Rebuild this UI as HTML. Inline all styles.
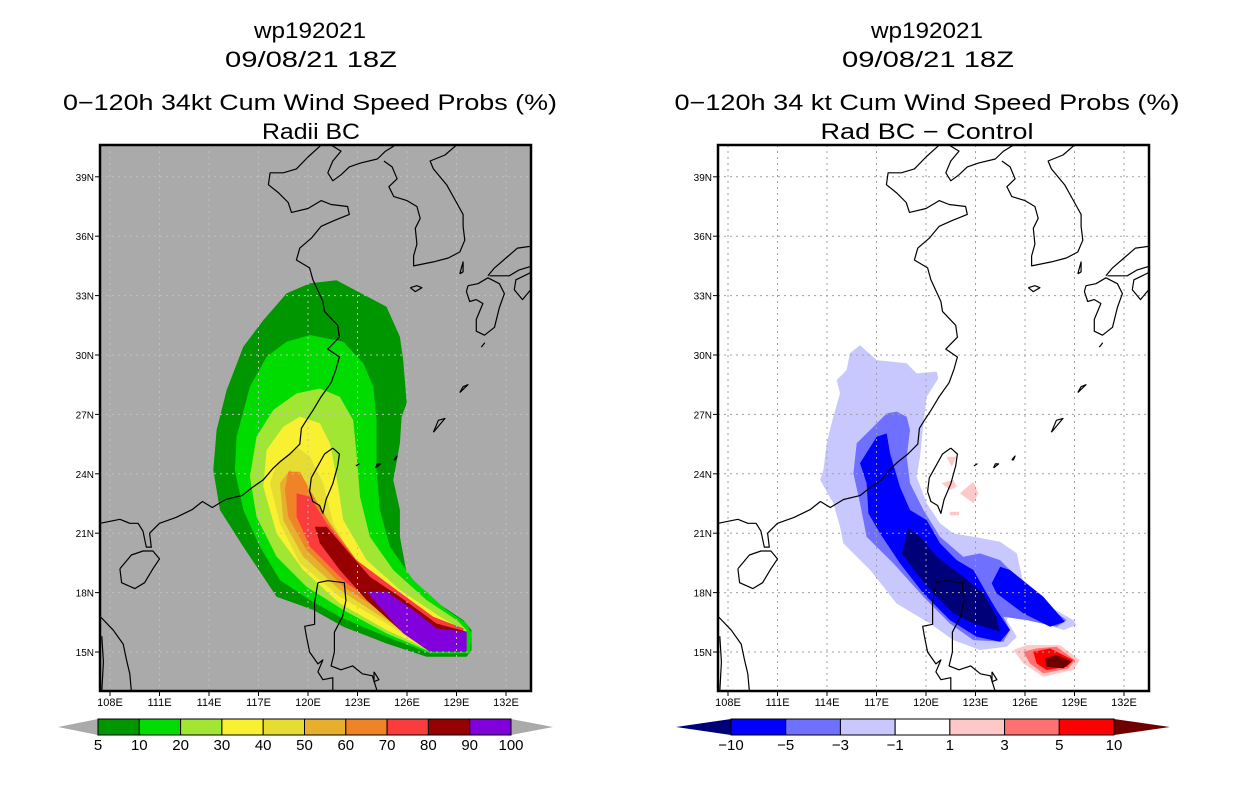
<!DOCTYPE html>
<html><head><meta charset="utf-8"><style>
html,body{margin:0;padding:0;background:#fff;}
svg{display:block;font-family:"Liberation Sans",sans-serif;}
</style></head><body>
<svg id="chart" width="1236" height="800" viewBox="0 0 1236 800" xmlns="http://www.w3.org/2000/svg">
<defs>
<clipPath id="clipL"><rect x="100" y="145" width="431" height="546"/></clipPath>
<clipPath id="clipR"><rect x="718" y="145" width="431" height="546"/></clipPath>
</defs>
<g font-size="22" text-anchor="middle" fill="#000">
<text x="310" y="38" textLength="112" lengthAdjust="spacingAndGlyphs">wp192021</text>
<text x="311" y="67" textLength="172" lengthAdjust="spacingAndGlyphs">09/08/21 18Z</text>
<text x="310" y="110" textLength="494" lengthAdjust="spacingAndGlyphs">0−120h 34kt Cum Wind Speed Probs (%)</text>
<text x="311" y="139" textLength="98" lengthAdjust="spacingAndGlyphs">Radii BC</text>
</g>
<g font-size="22" text-anchor="middle" fill="#000">
<text x="927" y="38" textLength="112" lengthAdjust="spacingAndGlyphs">wp192021</text>
<text x="928" y="67" textLength="172" lengthAdjust="spacingAndGlyphs">09/08/21 18Z</text>
<text x="927" y="110" textLength="505" lengthAdjust="spacingAndGlyphs">0−120h 34 kt Cum Wind Speed Probs (%)</text>
<text x="927" y="139" textLength="213" lengthAdjust="spacingAndGlyphs">Rad BC − Control</text>
</g>
<g id="leftPanel"></g>
<g id="rightPanel"></g>
<g id="leftBar"></g>
<g id="rightBar"></g>
</svg>
<script>
const NS="http://www.w3.org/2000/svg";
const lonTicks=[108,111,114,117,120,123,126,129,132];
const latTicks=[15,18,21,24,27,30,33,36,39];
const leftLevels=[5,10,20,30,40,50,60,70,80,90,100];
const leftColors=["#009600","#00dc00","#a0e632","#faf032","#e6dc32","#e6af2d","#f08228","#fa3c3c","#960000","#8200dc"];
const rightLevels=[-10,-5,-3,-1,1,3,5,10];
const rightColors=["#0000ff","#7070ff","#c8c8ff","#ffffff","#ffc8c8","#ff7070","#ff0000"];
const rightLowColor="#000078", rightHighColor="#6e0000";

// Probability contour polygons (lon, lat), outer to inner
const prob5=[[120.12,33.62],[121.73,33.78],[124.76,32.44],[125.57,30.92],[125.77,29.74],[125.98,27.56],[125.67,26.88],[125.57,25.54],[125.17,23.68],[125.57,22.17],[125.57,20.82],[125.98,18.97],[127.59,17.62],[129.41,16.61],[129.91,16.11],[129.91,15.10],[129.61,14.76],[127.19,14.76],[124.76,15.43],[122.14,16.28],[120.32,17.12],[118.10,17.79],[116.08,20.32],[114.66,22.17],[114.26,24.19],[114.46,26.21],[115.07,28.23],[116.08,30.42],[117.29,31.76],[118.70,33.11]];
const prob10=[[120.12,31.01],[122.14,30.67],[123.35,29.58],[123.96,28.40],[124.16,26.71],[124.16,24.19],[124.36,22.17],[124.97,20.32],[126.38,18.63],[128.40,17.12],[129.61,16.44],[129.91,15.94],[129.81,14.93],[127.39,14.93],[124.76,15.77],[121.93,16.78],[120.12,17.62],[118.30,18.63],[117.09,20.32],[116.08,22.17],[115.57,24.19],[115.67,25.87],[116.48,28.40],[117.49,29.91],[118.70,30.67]];
const prob20=[[120.72,28.31],[121.93,27.89],[122.74,26.71],[122.94,25.03],[123.15,22.84],[123.75,20.82],[125.17,19.14],[127.19,17.62],[129.01,16.61],[129.61,16.11],[129.61,15.10],[127.39,15.01],[124.76,15.94],[122.14,17.12],[119.91,18.30],[118.10,19.81],[116.88,21.83],[116.48,23.85],[116.88,25.87],[117.89,27.22],[119.31,28.06]];
const prob30=[[119.51,26.88],[120.72,26.55],[121.33,25.54],[121.73,23.85],[122.14,21.66],[123.55,19.64],[125.57,18.13],[128.00,16.78],[129.21,16.19],[129.41,15.27],[127.39,15.10],[124.76,16.11],[121.93,17.45],[119.71,19.14],[118.10,20.99],[117.29,23.35],[117.49,25.20],[118.50,26.38]];
const prob40=[[119.31,25.37],[120.12,24.86],[120.92,23.52],[121.53,21.50],[122.94,19.48],[125.37,17.79],[128.00,16.44],[129.21,16.11],[129.41,15.27],[127.39,15.10],[124.76,16.44],[121.93,17.79],[119.51,19.48],[118.30,21.50],[117.69,23.52],[118.10,24.53]];
const prob50=[[118.90,24.19],[119.91,23.52],[120.72,21.83],[122.54,19.64],[124.97,17.79],[127.59,16.44],[129.21,16.02],[129.21,15.27],[127.39,15.18],[124.76,16.61],[121.93,18.13],[119.71,19.81],[118.50,21.66],[118.30,23.52]];
const prob60=[[118.80,24.10],[119.51,24.10],[120.12,23.18],[121.33,21.50],[122.94,19.64],[125.17,17.96],[127.59,16.61],[129.21,16.11],[129.31,15.35],[127.59,15.27],[124.97,16.78],[122.14,18.30],[119.91,20.15],[118.80,21.83],[118.60,23.18]];
const prob70=[[119.31,23.01],[120.12,22.84],[121.13,21.50],[122.94,19.64],[125.37,18.13],[127.59,16.78],[129.41,16.19],[129.51,15.27],[127.59,15.35],[125.17,16.95],[122.34,18.47],[120.12,20.32],[119.31,21.83]];
const prob80=[[120.42,21.33],[121.13,21.33],[122.34,20.15],[123.75,18.80],[125.57,17.79],[127.79,16.44],[129.61,16.02],[129.61,15.10],[127.39,15.10],[125.57,16.11],[123.55,17.62],[121.93,19.14],[120.72,20.49]];
const prob90=[[123.55,18.04],[124.76,18.04],[126.38,17.12],[127.79,16.19],[129.61,16.02],[129.61,15.01],[127.39,15.01],[125.77,15.94]];

// Difference contour polygons (lon, lat)
const diffNeg1=[[116.00,30.50],[117.01,29.74],[118.83,29.58],[119.43,29.07],[120.65,29.16],[120.75,28.82],[120.04,27.89],[119.84,26.55],[119.64,24.86],[119.43,23.85],[120.04,22.51],[120.85,21.50],[121.66,20.99],[122.87,20.82],[124.49,20.57],[125.50,19.98],[125.90,18.47],[127.52,17.29],[128.93,16.61],[129.13,16.36],[128.32,16.11],[125.90,16.78],[125.09,17.12],[124.89,16.61],[125.50,15.77],[124.89,15.27],[123.27,15.10],[121.66,15.60],[120.24,16.44],[118.22,17.45],[116.61,19.14],[114.99,20.49],[114.79,21.33],[114.38,22.51],[113.58,23.69],[113.78,24.19],[113.98,25.54],[114.38,26.88],[114.79,28.06],[114.59,28.73],[115.19,29.24],[115.39,30.08]];
const diffNeg3=[[118.22,27.14],[118.83,26.88],[119.03,26.21],[118.83,24.86],[119.03,23.52],[119.84,22.17],[120.85,20.82],[122.26,19.81],[123.27,19.98],[124.49,19.64],[127.11,17.45],[128.53,16.61],[127.92,16.28],[126.10,16.61],[124.69,16.78],[125.09,16.11],[124.69,15.52],[122.87,15.60],[121.45,16.44],[119.84,17.79],[118.02,19.48],[116.40,20.82],[116.00,22.51],[115.60,24.02],[115.80,25.54],[116.81,26.38],[117.62,27.05]];
const diffNeg5a=[[117.01,25.87],[117.62,26.04],[117.82,25.03],[118.42,23.35],[119.03,22.17],[120.04,21.66],[120.85,20.49],[121.86,19.64],[122.87,19.14],[123.68,17.96],[124.28,17.12],[125.09,16.11],[124.49,15.52],[123.07,15.77],[121.45,16.61],[119.84,17.96],[118.42,19.48],[117.21,20.99],[116.51,22.00],[116.40,23.52],[116.00,24.53]];
const diffNeg5b=[[124.49,19.31],[125.09,19.14],[127.11,17.79],[128.42,16.53],[127.52,16.28],[125.90,16.95],[124.28,17.96],[123.98,18.47]];
const diffNeg10=[[118.93,21.24],[119.64,20.82],[120.65,19.81],[122.26,18.80],[123.48,17.96],[124.28,16.78],[124.49,16.02],[122.87,16.44],[121.66,16.95],[120.44,17.96],[119.43,18.97],[118.53,19.98]];
const diffPos1=[[125.29,15.10],[126.10,15.35],[128.12,15.35],[129.33,14.59],[128.93,14.09],[127.11,13.75],[125.90,14.42]];
const diffPos3=[[125.90,15.01],[126.71,15.18],[127.92,15.27],[129.03,14.59],[128.63,14.17],[127.11,13.92],[126.30,14.42]];
const diffPos5=[[126.50,15.01],[127.52,15.18],[128.93,14.59],[128.53,14.26],[127.31,14.09],[126.71,14.42]];
const diffPos10=[[127.21,14.68],[127.92,14.85],[128.83,14.51],[128.32,14.17],[127.31,14.26]];
const diffPosSpotA=[[121.25,24.86],[121.86,24.86],[121.56,24.36]];
const diffPosSpotB=[[120.95,23.52],[121.66,23.69],[121.86,23.35],[121.45,23.18]];
const diffPosSpotC=[[122.06,23.01],[122.87,23.60],[123.17,23.01],[122.87,22.51]];
const diffPosSpotD=[[121.45,22.08],[122.00,22.08],[122.00,21.90],[121.45,21.90]];

// Coastlines (lon, lat)
const coasts=[
[[107.4,21.5],[108.0,21.6],[108.6,21.7],[109.2,21.5],[109.7,21.5],[110.0,21.1],[110.2,20.3],[110.5,20.3],[110.4,21.0],[111.0,21.5],[112.0,21.8],[113.0,22.2],[113.6,22.6],[114.2,22.3],[115.0,22.7],[116.0,22.9],[116.6,23.3],[117.3,23.7],[117.9,24.3],[118.3,24.6],[118.9,25.0],[119.5,25.5],[119.6,26.3],[119.9,26.7],[120.3,27.2],[120.8,27.9],[121.4,28.6],[121.7,29.3],[121.9,29.9],[121.2,30.3],[121.9,30.9],[121.8,31.5],[121.0,32.2],[120.9,32.7],[120.3,33.8],[120.1,34.4],[119.3,34.8],[119.5,35.4],[120.2,35.9],[120.8,36.5],[121.6,36.8],[122.5,37.1],[122.4,37.5],[121.4,37.6],[120.8,37.8],[120.0,37.4],[119.0,37.2],[118.8,37.7],[118.2,38.2],[117.6,38.6],[117.7,39.2],[118.5,39.2],[119.3,39.4],[120.0,40.0],[120.8,40.6]],
[[121.4,40.6],[122.0,40.3],[121.5,39.8],[121.2,39.2],[121.5,38.8],[122.0,39.1],[122.5,39.5],[123.2,39.7],[124.2,39.9],[124.7,40.3],[125.3,40.6]],
[[124.6,39.8],[125.1,39.5],[125.4,38.9],[124.9,38.5],[125.2,38.0],[126.0,37.8],[126.6,37.5],[126.8,36.9],[126.5,36.4],[126.6,35.6],[126.4,35.0],[126.4,34.5],[127.0,34.6],[127.6,34.7],[128.5,34.9],[129.2,35.2],[129.5,35.8],[129.4,36.5],[129.4,37.1],[129.0,37.7],[128.4,38.6],[127.6,39.4],[127.4,39.8],[128.3,40.1],[129.0,40.6]],
[[126.2,33.4],[126.6,33.5],[126.9,33.4],[126.5,33.2],[126.2,33.4]],
[[129.7,33.5],[130.3,33.6],[130.9,33.9],[131.6,33.6],[131.9,33.1],[131.6,32.4],[131.3,31.4],[130.7,31.0],[130.2,31.2],[130.2,31.8],[130.6,32.6],[130.2,32.8],[129.8,32.7],[129.6,33.2],[129.7,33.5]],
[[130.9,34.0],[131.3,34.4],[132.0,34.9],[132.7,35.4],[133.6,35.5]],
[[133.6,34.5],[132.8,34.3],[132.2,34.0],[131.5,34.0],[131.0,34.0]],
[[133.6,33.4],[133.0,32.8],[132.5,33.3],[132.6,33.8],[133.6,34.2]],
[[129.2,34.1],[129.4,34.7],[129.4,34.2],[129.2,34.1]],
[[121.5,25.3],[121.9,25.0],[121.8,24.4],[121.5,23.5],[121.1,22.7],[120.9,22.0],[120.7,22.4],[120.3,22.6],[120.1,23.1],[120.2,23.8],[120.6,24.4],[121.0,25.0],[121.5,25.3]],
[[108.6,19.2],[108.7,18.5],[109.5,18.2],[110.1,18.5],[110.6,19.2],[111.0,19.7],[110.6,20.1],[110.0,20.1],[109.3,19.9],[108.6,19.2]],
[[120.6,18.5],[121.2,18.6],[122.2,18.5],[122.3,17.6],[122.1,16.8],[121.6,16.0],[121.6,15.0],[121.4,14.3],[122.0,14.1],[122.7,14.3],[123.3,13.9],[123.9,13.8],[124.2,13.0]],
[[120.6,18.5],[120.4,17.5],[120.4,16.4],[119.8,16.3],[119.9,15.8],[120.1,15.0],[120.6,14.4],[120.9,14.6],[120.6,14.0],[120.9,13.6],[121.5,13.7],[121.5,13.0]],
[[124.0,14.0],[124.3,13.6],[124.0,13.5],[124.0,14.0]],
[[107.4,16.8],[108.2,16.1],[108.8,15.4],[109.0,14.6],[109.2,13.9],[109.3,13.0]],
[[107.5,15.8],[107.6,14.5],[107.5,13.0]],
[[127.6,26.1],[128.3,26.8],[127.9,26.7],[127.6,26.1]],
[[129.2,28.1],[129.7,28.5],[129.4,28.4],[129.2,28.1]],
[[124.1,24.3],[124.4,24.5],[124.2,24.5],[124.1,24.3]],
[[125.2,24.7],[125.4,24.9],[125.3,24.7],[125.2,24.7]],
[[122.9,24.4],[123.1,24.5],[122.9,24.4]],
[[130.5,30.4],[130.7,30.6],[130.5,30.4]]
];

const X0=110, Y0=652, PXLON=16.5, PXLAT=19.8;
function xScale(lon,ox){return ox+X0+(lon-108)*PXLON;}
function yScale(lat){return Y0-(lat-15)*PXLAT;}
function polyPts(poly,ox){return poly.map(p=>xScale(p[0],ox).toFixed(1)+","+yScale(p[1]).toFixed(1)).join(" ");}

function drawPanel(gid,ox,bg,fills,clip){
  const g=document.getElementById(gid);
  const bgR=document.createElementNS(NS,"rect");
  
  
  bgR.setAttribute("x",ox+100);bgR.setAttribute("y",145);bgR.setAttribute("width",431);bgR.setAttribute("height",546);bgR.setAttribute("fill",bg);
  g.appendChild(bgR);
  const cg=document.createElementNS(NS,"g");
  cg.setAttribute("clip-path","url(#"+clip+")");
  g.appendChild(cg);
  fills.forEach(f=>{
    const p=document.createElementNS(NS,"polygon");
    
    
    p.setAttribute("points",polyPts(f[0],ox));p.setAttribute("fill",f[1]);
    cg.appendChild(p);
  });
  // grid
  lonTicks.forEach(l=>{
    const ln=document.createElementNS(NS,"line");
    
    
    const x=xScale(l,ox);
    ln.setAttribute("x1",x);ln.setAttribute("x2",x);ln.setAttribute("y1",145);ln.setAttribute("y2",691);
    ln.setAttribute("stroke",bg==="#ffffff"?"#a0a0a0":"#c0c0c0");ln.setAttribute("stroke-dasharray","2,4");ln.setAttribute("stroke-width","1");
    cg.appendChild(ln);
  });
  latTicks.forEach(l=>{
    const ln=document.createElementNS(NS,"line");
    
    
    const y=yScale(l);
    ln.setAttribute("x1",ox+100);ln.setAttribute("x2",ox+531);ln.setAttribute("y1",y);ln.setAttribute("y2",y);
    ln.setAttribute("stroke",bg==="#ffffff"?"#a0a0a0":"#c0c0c0");ln.setAttribute("stroke-dasharray","2,4");ln.setAttribute("stroke-width","1");
    cg.appendChild(ln);
  });
  coasts.forEach(c=>{
    const pl=document.createElementNS(NS,"polyline");
    
    
    pl.setAttribute("points",polyPts(c,ox));pl.setAttribute("fill","none");pl.setAttribute("stroke","#000");pl.setAttribute("stroke-width","1.2");pl.setAttribute("stroke-linejoin","round");
    cg.appendChild(pl);
  });
  const fr=document.createElementNS(NS,"rect");
  
  
  fr.setAttribute("x",ox+100);fr.setAttribute("y",145);fr.setAttribute("width",431);fr.setAttribute("height",546);fr.setAttribute("fill","none");fr.setAttribute("stroke","#000");fr.setAttribute("stroke-width","2.5");
  g.appendChild(fr);
  lonTicks.forEach(l=>{
    const x=xScale(l,ox);
    const t=document.createElementNS(NS,"line");
    
    
    t.setAttribute("x1",x);t.setAttribute("x2",x);t.setAttribute("y1",691);t.setAttribute("y2",696);t.setAttribute("stroke","#000");
    g.appendChild(t);
    const tx=document.createElementNS(NS,"text");
    
    
    tx.setAttribute("x",x);tx.setAttribute("y",706);tx.setAttribute("font-size","11");tx.setAttribute("text-anchor","middle");
    tx.textContent=l+"E";g.appendChild(tx);
  });
  latTicks.forEach(l=>{
    const y=yScale(l);
    const t=document.createElementNS(NS,"line");
    
    
    t.setAttribute("x1",ox+95);t.setAttribute("x2",ox+100);t.setAttribute("y1",y);t.setAttribute("y2",y);t.setAttribute("stroke","#000");
    g.appendChild(t);
    const tx=document.createElementNS(NS,"text");
    
    
    tx.setAttribute("x",ox+94);tx.setAttribute("y",y+4);tx.setAttribute("font-size","10");tx.setAttribute("text-anchor","end");
    tx.textContent=l+"N";g.appendChild(tx);
  });
}

drawPanel("leftPanel",0,"#aaaaaa",[
 [prob5,leftColors[0],'prob-5'],[prob10,leftColors[1],'prob-10'],[prob20,leftColors[2],'prob-20'],[prob30,leftColors[3],'prob-30'],
 [prob40,leftColors[4],'prob-40'],[prob50,leftColors[5],'prob-50'],[prob60,leftColors[6],'prob-60'],[prob70,leftColors[7],'prob-70'],
 [prob80,leftColors[8],'prob-80'],[prob90,leftColors[9],'prob-90']],"clipL");
drawPanel("rightPanel",618,"#ffffff",[
 [diffNeg1,rightColors[2],'diff-neg1'],[diffNeg3,rightColors[1],'diff-neg3'],[diffNeg5a,rightColors[0],'diff-neg5'],[diffNeg5b,rightColors[0],'diff-neg5-east'],
 [diffNeg10,rightLowColor,'diff-neg10'],[diffPos1,rightColors[4],'diff-pos1'],[diffPos3,rightColors[5],'diff-pos3'],[diffPos5,rightColors[6],'diff-pos5'],
 [diffPos10,rightHighColor,'diff-pos10'],[diffPosSpotA,rightColors[4],'diff-pos-spot'],[diffPosSpotB,rightColors[4],'diff-pos-spot'],[diffPosSpotC,rightColors[4],'diff-pos-spot'],[diffPosSpotD,rightColors[4],'diff-pos-spot']],"clipR");

function drawBar(gid,x0,x1,tipL,tipR,colors,levels,lowC,highC,stroke){
  const g=document.getElementById(gid);
  const y0=719,y1=735,ym=727;
  const tl=document.createElementNS(NS,"polygon");
  
  
  tl.setAttribute("points",tipL+","+ym+" "+x0+","+y0+" "+x0+","+y1);tl.setAttribute("fill",lowC);
  if(stroke){tl.setAttribute("stroke","#000");tl.setAttribute("stroke-width","1");}
  g.appendChild(tl);
  const tr=document.createElementNS(NS,"polygon");
  
  
  tr.setAttribute("points",tipR+","+ym+" "+x1+","+y0+" "+x1+","+y1);tr.setAttribute("fill",highC);
  if(stroke){tr.setAttribute("stroke","#000");tr.setAttribute("stroke-width","1");}
  g.appendChild(tr);
  const w=(x1-x0)/colors.length;
  colors.forEach((c,i)=>{
    const r=document.createElementNS(NS,"rect");
    
    
    r.setAttribute("x",x0+i*w);r.setAttribute("y",y0);r.setAttribute("width",w);r.setAttribute("height",y1-y0);
    r.setAttribute("fill",c);r.setAttribute("stroke","#000");r.setAttribute("stroke-width","1");
    g.appendChild(r);
  });
  levels.forEach((v,i)=>{
    const t=document.createElementNS(NS,"text");
    
    
    t.setAttribute("x",x0+i*w);t.setAttribute("y",750);t.setAttribute("font-size","15");t.setAttribute("text-anchor","middle");
    t.textContent=String(v).replace("-","−");g.appendChild(t);
  });
}
drawBar("leftBar",98,511,58,553,leftColors,leftLevels,"#aaaaaa","#aaaaaa",false);
drawBar("rightBar",731,1114,676,1170,rightColors,rightLevels,rightLowColor,rightHighColor,false);
</script>
</body></html>
